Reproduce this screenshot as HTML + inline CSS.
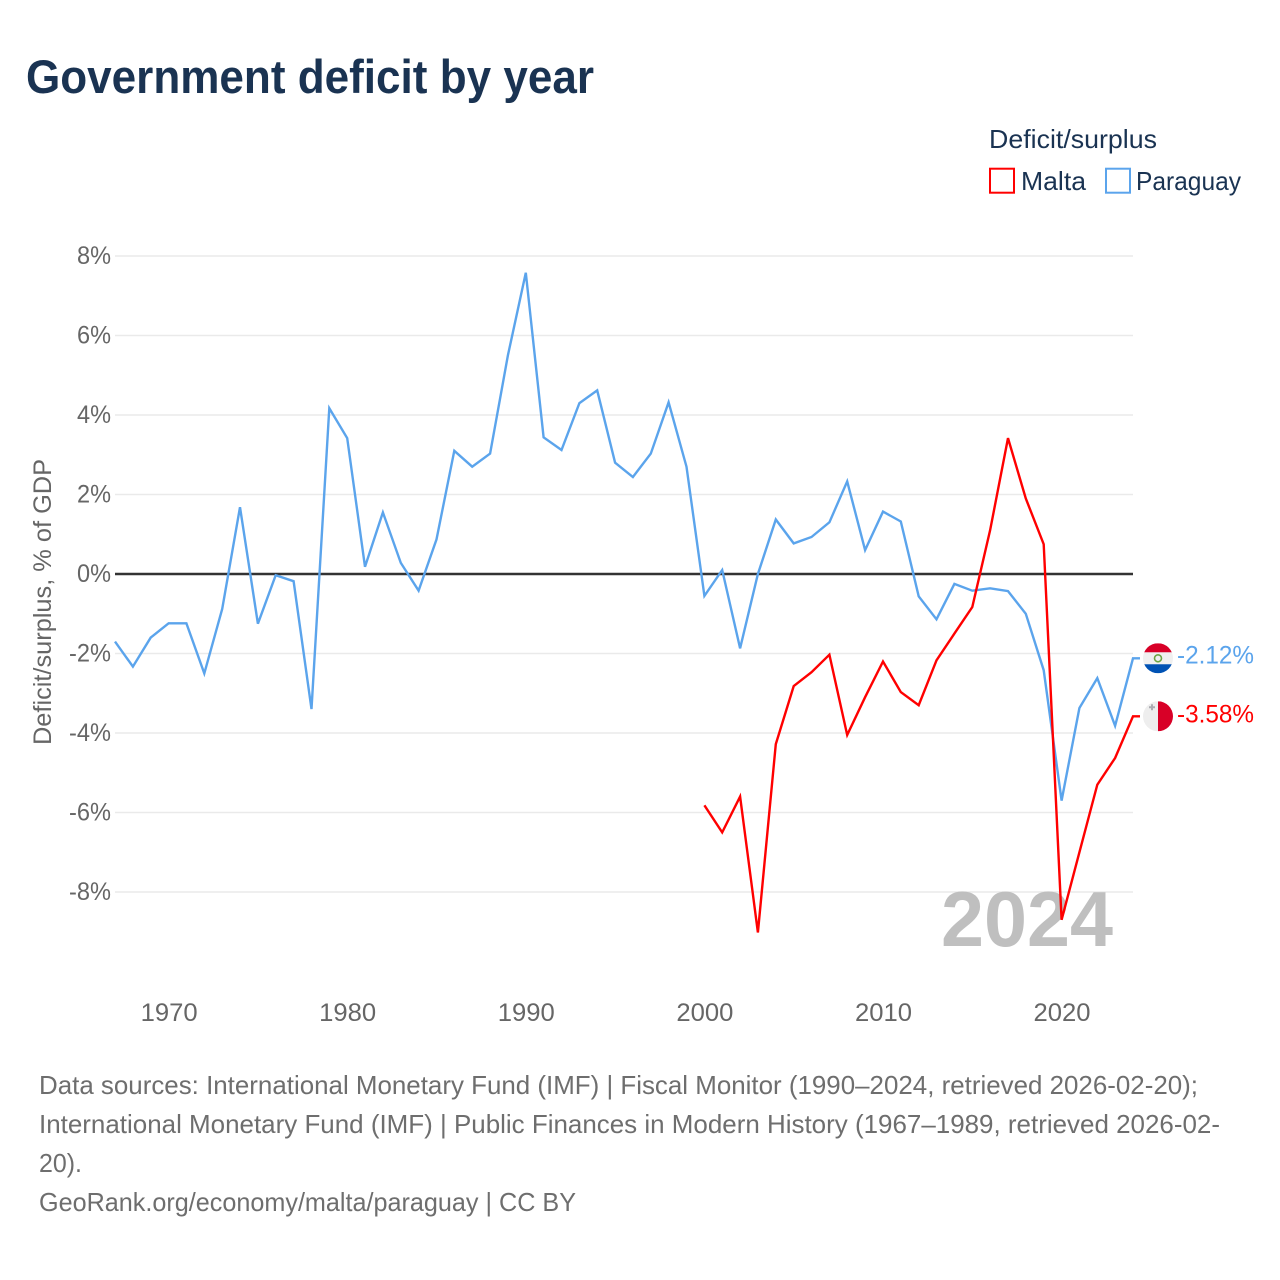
<!DOCTYPE html>
<html lang="en">
<head>
<meta charset="utf-8">
<title>Government deficit by year</title>
<style>
html,body{margin:0;padding:0;background:#fff}
svg{display:block}
text{font-family:"Liberation Sans",sans-serif}
</style>
</head>
<body>
<svg id="chart" xmlns="http://www.w3.org/2000/svg" width="1280" height="1280" viewBox="0 0 1280 1280">
  <rect width="1280" height="1280" fill="#fff"/>
  <text x="26" y="93" font-size="47" font-weight="700" fill="#1a3352" textLength="568" lengthAdjust="spacingAndGlyphs">Government deficit by year</text>
  <g>
    <text x="989" y="148" font-size="26" fill="#1a3352" textLength="168" lengthAdjust="spacingAndGlyphs">Deficit/surplus</text>
    <rect x="990" y="168.7" width="24" height="24" fill="none" stroke="#ff0000" stroke-width="2"/>
    <text x="1021" y="190" font-size="26" fill="#1a3352" textLength="65" lengthAdjust="spacingAndGlyphs">Malta</text>
    <rect x="1106" y="168.7" width="24" height="24" fill="none" stroke="#5ba4ec" stroke-width="2"/>
    <text x="1136" y="190" font-size="26" fill="#1a3352" textLength="105" lengthAdjust="spacingAndGlyphs">Paraguay</text>
  </g>
  <g id="grid"></g>
  <text x="941" y="946" font-size="78" font-weight="700" fill="#bfbfbf" textLength="172" lengthAdjust="spacingAndGlyphs">2024</text>
  <g id="yticks"></g>
  <g id="xticks"></g>
  <text transform="translate(51,745) rotate(-90)" font-size="25" fill="#666" textLength="286" lengthAdjust="spacingAndGlyphs">Deficit/surplus, % of GDP</text>
  <line id="zero" stroke="#333" stroke-width="2.4"/>
  <g id="series"></g>
  <g id="ends"></g>
  <g font-size="26" fill="#6e6e6e">
    <text x="39" y="1094" textLength="1159" lengthAdjust="spacingAndGlyphs">Data sources: International Monetary Fund (IMF) | Fiscal Monitor (1990–2024, retrieved 2026-02-20);</text>
    <text x="39" y="1133" textLength="1181" lengthAdjust="spacingAndGlyphs">International Monetary Fund (IMF) | Public Finances in Modern History (1967–1989, retrieved 2026-02-</text>
    <text x="39" y="1172" textLength="43" lengthAdjust="spacingAndGlyphs">20).</text>
    <text x="39" y="1211" textLength="537" lengthAdjust="spacingAndGlyphs">GeoRank.org/economy/malta/paraguay | CC BY</text>
  </g>
</svg>
<script>
const paraguayStartYear = 1967;
const paraguayValues = [-1.7,-2.33,-1.6,-1.24,-1.24,-2.5,-0.88,1.68,-1.25,-0.03,-0.18,-3.4,4.17,3.42,0.18,1.55,0.28,-0.42,0.87,3.1,2.7,3.03,5.5,7.58,3.44,3.12,4.3,4.62,2.8,2.44,3.03,4.32,2.7,-0.55,0.1,-1.87,0,1.37,0.77,0.93,1.3,2.33,0.6,1.57,1.32,-0.56,-1.14,-0.25,-0.42,-0.36,-0.43,-1.0,-2.42,-5.7,-3.37,-2.62,-3.82,-2.12];
const maltaStartYear = 2000;
const maltaValues = [-5.82,-6.5,-5.6,-9.02,-4.28,-2.82,-2.47,-2.03,-4.05,-3.1,-2.2,-2.97,-3.3,-2.17,-1.5,-0.83,1.1,3.42,1.9,0.75,-8.7,-7,-5.3,-4.63,-3.58];
const yTickValues = [8,6,4,2,0,-2,-4,-6,-8];
const xTickYears = [1970,1980,1990,2000,2010,2020];

const NS = 'http://www.w3.org/2000/svg';
const left = 115, right = 1133, minYear = 1967, maxYear = 2024;
const x = yr => left + (yr - minYear) * (right - left) / (maxYear - minYear);
const y = v => 574 - v * 39.75;
function mk(tag, parent, attrs, txt) {
  const el = document.createElementNS(NS, tag);
  for (const k in attrs) el.setAttribute(k, attrs[k]);
  if (txt !== undefined) el.textContent = txt;
  parent.appendChild(el);
  return el;
}
const grid = document.getElementById('grid');
const yticks = document.getElementById('yticks');
const xticks = document.getElementById('xticks');
const seriesG = document.getElementById('series');
const ends = document.getElementById('ends');

yTickValues.forEach(v => {
  if (v !== 0) {
    const g = mk('line', grid, {x1:left, x2:right, y1:y(v), y2:y(v), stroke:'#eaeaea', 'stroke-width':1.4});
    
    
  }
  const w = v < 0 ? 42 : 34;
  const t = mk('text', yticks, {x:111 - w, y:y(v)+8, 'font-size':25, fill:'#666', textLength:w, lengthAdjust:'spacingAndGlyphs'}, v + '%');
  
  
});
xTickYears.forEach(yr => {
  const t = mk('text', xticks, {x:x(yr) - 28, y:1021, 'font-size':25, fill:'#666', textLength:57, lengthAdjust:'spacingAndGlyphs'}, yr);
  
  
});
const zero = document.getElementById('zero');
zero.setAttribute('x1', left); zero.setAttribute('x2', right);
zero.setAttribute('y1', y(0)); zero.setAttribute('y2', y(0));

function drawSeries(values, startYear, color) {
  const pts = values.map((v, i) => x(startYear + i).toFixed(1) + ',' + y(v).toFixed(1));
  const lastV = values[values.length - 1];
  pts.push((right + 7) + ',' + y(lastV).toFixed(1));
  return mk('polyline', seriesG, {points:pts.join(' '), fill:'none', stroke:color, 'stroke-width':2.4, 'stroke-linejoin':'miter'});
}
const paraguayLine = drawSeries(paraguayValues, paraguayStartYear, '#5ba4ec');


const maltaLine = drawSeries(maltaValues, maltaStartYear, '#ff0000');



// Paraguay flag and end label
const pv = paraguayValues[paraguayValues.length - 1];
const py = y(pv);
const pf = mk('g', ends, {});


const pclip = mk('clipPath', pf, {id:'clipP'});
mk('circle', pclip, {cx:1158, cy:py, r:15});
const pin = mk('g', pf, {'clip-path':'url(#clipP)'});
mk('rect', pin, {x:1143, y:py-15, width:30, height:30, fill:'#f0f0f0'});
mk('rect', pin, {x:1143, y:py-15, width:30, height:9, fill:'#d80027'});
mk('rect', pin, {x:1143, y:py+6, width:30, height:9, fill:'#0052b4'});
mk('circle', pin, {cx:1158, cy:py, r:3.5, fill:'none', stroke:'#6da544', 'stroke-width':1.6});
const pl = mk('text', ends, {x:1177, y:py+5, 'font-size':25, fill:'#5ba4ec', textLength:77, lengthAdjust:'spacingAndGlyphs'}, pv.toFixed(2) + '%');



// Malta flag and end label
const mv = maltaValues[maltaValues.length - 1];
const my = y(mv);
const mf = mk('g', ends, {});


const mclip = mk('clipPath', mf, {id:'clipM'});
mk('circle', mclip, {cx:1158, cy:my, r:15});
const min = mk('g', mf, {'clip-path':'url(#clipM)'});
mk('rect', min, {x:1143, y:my-15, width:15, height:30, fill:'#eeeeee'});
mk('rect', min, {x:1158, y:my-15, width:15, height:30, fill:'#d80027'});
mk('path', min, {d:'M1151 '+(my-12)+'h2v2h2v2h-2v2h-2v-2h-2v-2h2z', fill:'#acabb1'});
const ml = mk('text', ends, {x:1177, y:my+6, 'font-size':25, fill:'#ff0000', textLength:77, lengthAdjust:'spacingAndGlyphs'}, mv.toFixed(2) + '%');


</script>
</body>
</html>
